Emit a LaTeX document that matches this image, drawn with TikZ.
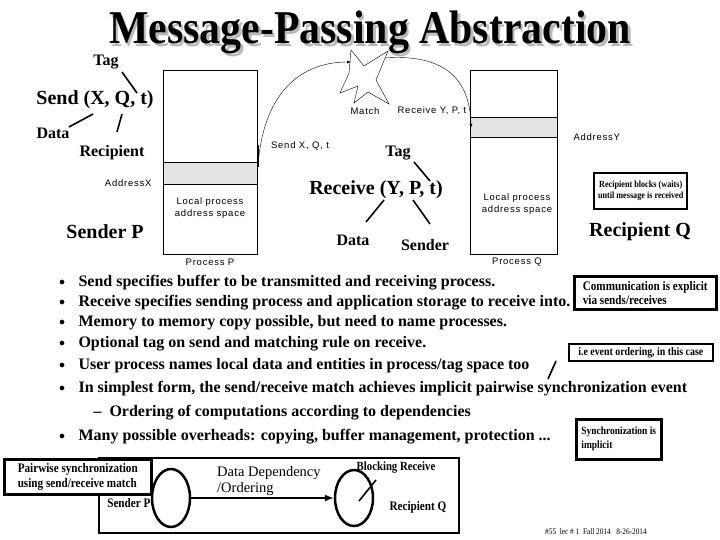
\documentclass[tikz,border=0pt]{standalone}
\usepackage{fontspec}
\setmainfont{Liberation Serif}
\newfontfamily\arialfont[LetterSpace=8]{Liberation Sans}
\newfontfamily\narrowfont[FakeStretch=0.86]{Liberation Serif}
\newfontfamily\titlefont[FakeStretch=0.89]{Liberation Serif}
\usetikzlibrary{arrows, shapes.geometric}

\begin{document}
\begin{tikzpicture}[x=1pt, y=-1pt,
    biglabel/.style={font=\bfseries\fontsize{20}{22}\selectfont},
    midlabel/.style={font=\bfseries\fontsize{16}{18}\selectfont},
    smalllabel/.style={font=\arialfont\fontsize{9.5}{12}\selectfont, align=center},
    bullettext/.style={anchor=west, font=\bfseries\fontsize{16}{18}\selectfont},
    notebox/.style={draw, line width=2.5pt, fill=white, align=left, anchor=north west,
        inner xsep=4pt, inner ysep=2pt, font=\narrowfont\bfseries\fontsize{13}{14}\selectfont},
    narrowlabel/.style={font=\narrowfont\bfseries\fontsize{13}{14}\selectfont},
    pointer/.style={line width=1.6pt},
    bulletdot/.style={font=\fontsize{12}{12}\selectfont}]
    \useasboundingbox (0,0) rectangle (720,540);
    \definecolor{bandgray}{RGB}{228,228,228}
    \def\boxwidth{94pt}
    \def\boxheight{184pt}
    \def\bandheight{22pt}
    \def\bulletx{62}
    \def\textx{75}
    \def\titletext{Message-Passing Abstraction}
    % title
    \node[font=\titlefont\bfseries\fontsize{47}{50}\selectfont] (title) at (370,34)
        {\rlap{\hspace{2.5pt}\raisebox{-2.5pt}{\color{gray!55}\titletext}}\titletext};
    % sender side
    \node[midlabel] (tagS) at (106,62) {Tag};
    \node[biglabel] (sendcall) at (95,100) {Send (X, Q, t)};
    \node[midlabel] (dataS) at (53,133) {Data};
    \node[midlabel] (recipS) at (112,153) {Recipient};
    \coordinate (tagSa) at (122,72);
    \coordinate (tagSb) at (137,93);
    \coordinate (dataSa) at (69,127);
    \coordinate (dataSb) at (93,114);
    \coordinate (recipSa) at (117,132);
    \coordinate (recipSb) at (122,114);
    \draw[pointer] (tagSa) -- (tagSb);
    \draw[pointer] (dataSa) -- (dataSb);
    \draw[pointer] (recipSa) -- (recipSb);
    \node[biglabel] (senderP) at (105,232) {Sender P};
    % process P
    \node[draw, fill=bandgray, shape=rectangle, minimum width=\boxwidth, minimum height=\bandheight] (bandP) at (210,173) {};
    \node[draw, shape=rectangle, minimum width=\boxwidth, minimum height=\boxheight] (procP) at (210,162) {};
    \node[smalllabel, anchor=east] (addrX) at (155,183) {AddressX};
    \node[smalllabel] (localP) at (210,208) {Local process\\address space};
    \node[smalllabel] (nameP) at (210,262) {Process P};
    % process Q
    \node[draw, fill=bandgray, shape=rectangle, minimum width=87pt, minimum height=20pt] (bandQ) at (513.5,127) {};
    \node[draw, shape=rectangle, minimum width=87pt, minimum height=\boxheight] (procQ) at (513.5,162) {};
    \node[smalllabel, anchor=west] (addrY) at (570,137) {AddressY};
    \node[smalllabel] (localQ) at (517,204) {Local process\\address space};
    \node[smalllabel] (nameQ) at (517,262) {Process Q};
    % match
    \draw[fill=white] (351,50) -- (364,66) -- (388,51) -- (376,80) -- (389,104) -- (368,92) -- (354,103) -- (358,86) -- (340,93) -- (349,73) -- cycle;
    \coordinate (matchin) at (351,62);
    \coordinate (matchout) at (385,58);
    \node[smalllabel] (matchtext) at (365,111) {Match};
    \node[smalllabel] (recvtext) at (432,111) {Receive Y, P, t};
    \node[smalllabel] (sendtext) at (300,146) {Send X, Q, t};
    \coordinate (sendstart) at (258,167);
    \coordinate (recvend) at (471,128);
    \draw[line width=1.6pt] (258,145) -- (sendstart);
    \draw[-latex] (sendstart) .. controls (262,100) and (295,62) .. (matchin);
    \draw[-latex] (matchout) .. controls (440,54) and (470,75) .. (recvend);
    % receiver side
    \node[midlabel] (tagR) at (398,153) {Tag};
    \node[biglabel] (recvcall) at (376,190) {Receive (Y, P, t)};
    \node[midlabel] (dataR) at (353,240) {Data};
    \node[midlabel] (senderR) at (425,245) {Sender};
    \coordinate (tagRa) at (414,162);
    \coordinate (tagRb) at (430,181);
    \coordinate (dataRa) at (366,222);
    \coordinate (dataRb) at (384,200);
    \coordinate (senderRa) at (413,200);
    \coordinate (senderRb) at (430,224);
    \draw[pointer] (tagRa) -- (tagRb);
    \draw[pointer] (dataRa) -- (dataRb);
    \draw[pointer] (senderRa) -- (senderRb);
    \node[notebox, line width=2pt, align=center, minimum width=90pt, minimum height=36pt,
        font=\narrowfont\bfseries\fontsize{9.5}{11}\selectfont] (blocks) at (593,172) {Recipient blocks (waits)\\until message is received};
    \node[biglabel] (recipQ) at (640,232) {Recipient Q};
    % bullets
    \node[bulletdot] (b1) at (\bulletx,283) {$\bullet$};
    \node[bullettext] (t1) at (\textx,283) {Send specifies buffer to be transmitted and receiving process.};
    \node[bulletdot] (b2) at (\bulletx,303) {$\bullet$};
    \node[bullettext] (t2) at (\textx,303) {Receive specifies sending process and application storage to receive into.};
    \node[bulletdot] (b3) at (\bulletx,323) {$\bullet$};
    \node[bullettext] (t3) at (\textx,323) {Memory to memory copy possible, but need to name processes.};
    \node[bulletdot] (b4) at (\bulletx,344) {$\bullet$};
    \node[bullettext] (t4) at (\textx,344) {Optional tag on send and matching rule on receive.};
    \node[bulletdot] (b5) at (\bulletx,366) {$\bullet$};
    \node[bullettext] (t5) at (\textx,366) {User process names local data and entities in process/tag space too};
    \node[bulletdot] (b6) at (\bulletx,389) {$\bullet$};
    \node[bullettext] (t6) at (\textx,389) {In simplest form, the send/receive match achieves implicit pairwise synchronization event};
    \node[bullettext] (t7) at (90,413) {--\enspace Ordering of computations according to dependencies};
    \node[bulletdot] (b8) at (\bulletx,437) {$\bullet$};
    \node[bullettext] (t8) at (\textx,437) {Many possible overheads: copying, buffer management, protection ...};
    % notes
    \node[notebox, minimum width=142pt, minimum height=33pt] (explicit) at (573,275) {Communication is explicit\\via sends/receives};
    \node[notebox, line width=1.6pt, minimum width=144pt, minimum height=17pt, inner ysep=0pt, inner xsep=2pt,
        font=\narrowfont\bfseries\fontsize{11.5}{12}\selectfont] (ordering) at (568,343) {i.e event ordering, in this case};
    \coordinate (orderingtip) at (548,379);
    \draw[pointer] (556,361) -- (orderingtip);
    \node[notebox, minimum width=85pt, minimum height=40pt, font=\narrowfont\bfseries\fontsize{11}{14}\selectfont] (implicit) at (575,418) {Synchronization is\\implicit};
    % pairwise synchronization
    \node[draw, line width=1.6pt, shape=rectangle, anchor=north west, minimum width=360pt, minimum height=75pt] (pairframe) at (98,457) {};
    \node[notebox, minimum width=147pt, minimum height=35pt, font=\narrowfont\bfseries\fontsize{13}{15}\selectfont] (pairwise) at (3,458) {Pairwise synchronization\\using send/receive match};
    \node[draw, ellipse, line width=2.5pt, minimum width=38pt, minimum height=58pt] (eventP) at (171,498) {};
    \node[draw, ellipse, line width=2.5pt, minimum width=38pt, minimum height=56pt] (eventQ) at (354,498) {};
    \draw[-latex, line width=2pt] (eventP) -- (eventQ);
    \node[font=\fontsize{14.5}{16}\selectfont, anchor=north west, align=left, inner sep=0pt] (depend) at (217,466) {Data Dependency\\/Ordering};
    \node[narrowlabel, font=\narrowfont\bfseries\fontsize{12.5}{14}\selectfont] (blocking) at (396,468) {Blocking Receive};
    \coordinate (blockingtip) at (359,501);
    \draw[pointer] (376,480) -- (blockingtip);
    \node[narrowlabel, anchor=east] (senderPs) at (154,503) {Sender P};
    \node[narrowlabel, anchor=west] (recipQs) at (386,507) {Recipient Q};
    \node[font=\narrowfont\fontsize{8.5}{10}\selectfont] (footer) at (596,532) {\#55\ \ lec \# 1\ \ Fall 2014\ \ \ 8-26-2014};
\end{tikzpicture}
\end{document}
